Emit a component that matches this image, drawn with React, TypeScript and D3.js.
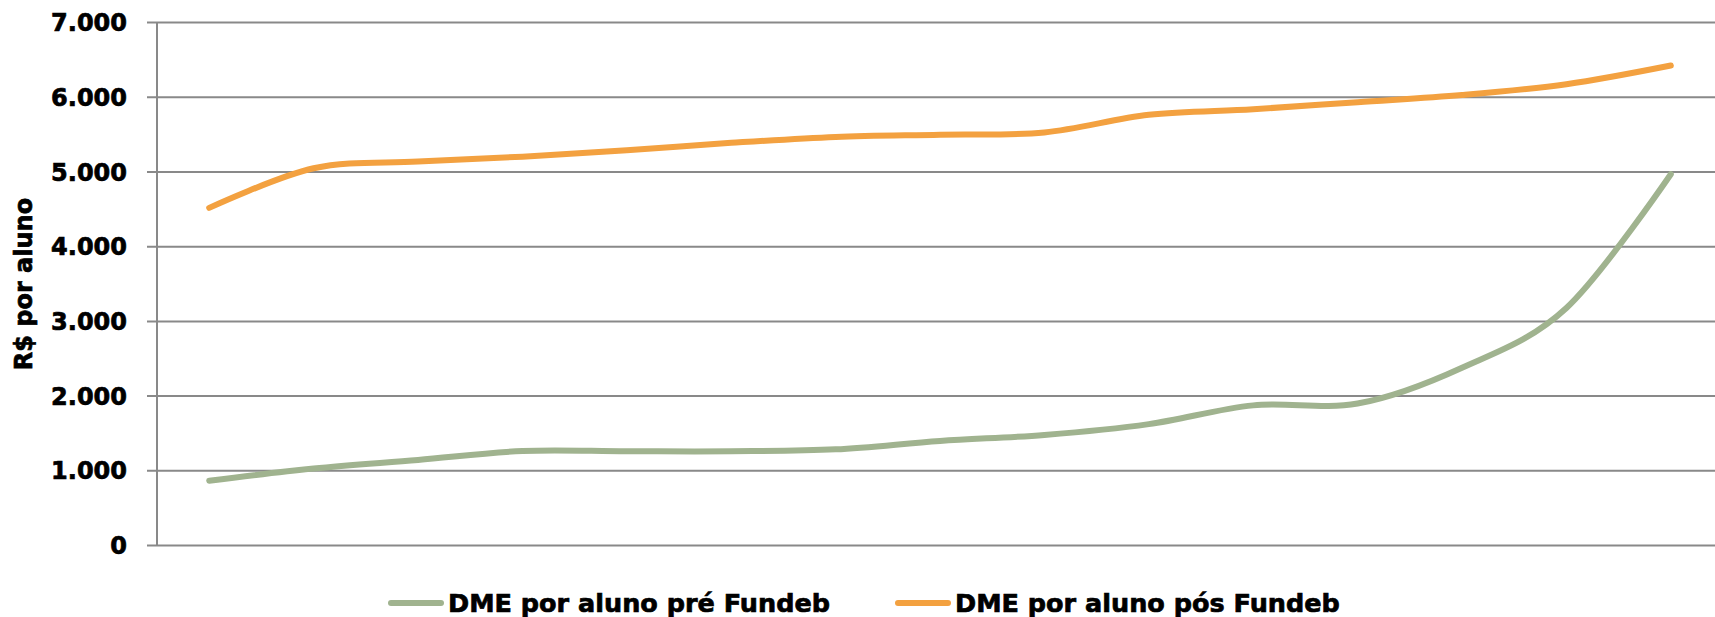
import { useEffect, useRef } from "react";
import * as d3 from "d3";

// categories have no printed labels in the source chart
const categories = ["1", "2", "3", "4", "5", "6", "7", "8", "9", "10", "11", "12", "13", "14", "15"];
const preFundeb = [867, 1030, 1145, 1265, 1262, 1262, 1287, 1400, 1480, 1625, 1876, 1900, 2380, 3180, 4970];
const posFundeb = [4520, 5050, 5140, 5205, 5290, 5390, 5470, 5500, 5530, 5765, 5840, 5935, 6030, 6175, 6425];
const yTicks = [0, 1000, 2000, 3000, 4000, 5000, 6000, 7000];

const seriesNames = ["DME por aluno pré Fundeb", "DME por aluno pós Fundeb"];
const seriesColors = ["#a0b38f", "#f3a140"];

const W = 1715;
const H = 617;
const FONT = "'DejaVu Sans', Verdana, sans-serif";

export default function App() {
  const ref = useRef<SVGSVGElement | null>(null);

  useEffect(() => {
    document.body.style.margin = "0";
    if (!ref.current) return;
    const svg = d3.select(ref.current);
    svg.selectAll("*").remove();

    const x = d3.scaleBand<string>().domain(categories).range([157, 1723]);
    const y = d3.scaleLinear().domain([0, 7000]).range([545.5, 22.6]);
    const cx = (c: string) => x(c)! + x.bandwidth() / 2;

    // gridlines
    svg
      .append("g")
      .attr("stroke", "#898989")
      .attr("stroke-width", 2)
      .selectAll("line")
      .data(yTicks)
      .join("line")
      .attr("x1", 147)
      .attr("x2", W)
      .attr("y1", (d) => y(d))
      .attr("y2", (d) => y(d));

    // y axis line
    svg
      .append("line")
      .attr("x1", 157)
      .attr("x2", 157)
      .attr("y1", y(7000))
      .attr("y2", y(0))
      .attr("stroke", "#898989")
      .attr("stroke-width", 2);

    // heavier look, the source uses a black-weight face
    const heavy = (sel: d3.Selection<SVGTextElement, any, any, any>, size: number) =>
      sel
        .attr("font-family", FONT)
        .attr("font-weight", "bold")
        .attr("font-size", size)
        .attr("fill", "#000")
        .attr("stroke", "#000")
        .attr("stroke-width", 0.7);

    // tick labels
    const fmt = (v: number) => d3.format(",")(v).replace(/,/g, ".");
    svg
      .append("g")
      .selectAll("text")
      .data(yTicks)
      .join("text")
      .attr("x", 127)
      .attr("y", (d) => y(d))
      .attr("dy", "0.36em")
      .attr("text-anchor", "end")
      .call(heavy, 24)
      .text((d) => fmt(d));

    // y title
    svg
      .append("text")
      .attr("transform", `translate(32,${(y(0) + y(7000)) / 2}) rotate(-90)`)
      .attr("text-anchor", "middle")
      .call(heavy, 24)
      .text("R$ por aluno");

    // lines
    const line = d3
      .line<number>()
      .x((_, i) => cx(categories[i]))
      .y((d) => y(d))
      .curve(d3.curveCardinal.tension(0));

    [preFundeb, posFundeb].forEach((vals, i) => {
      svg
        .append("path")
        .datum(vals)
        .attr("fill", "none")
        .attr("stroke", seriesColors[i])
        .attr("stroke-width", 6)
        .attr("stroke-linecap", "round")
        .attr("stroke-linejoin", "round")
        .attr("d", line);
    });

    // legend
    const legendX = [388, 895];
    const legendY = 603;
    const lg = svg
      .append("g")
      .selectAll("g")
      .data(seriesNames)
      .join("g")
      .attr("transform", (_, i) => `translate(${legendX[i]},${legendY})`);

    lg.append("line")
      .attr("x1", 3)
      .attr("x2", 53)
      .attr("stroke", (_, i) => seriesColors[i])
      .attr("stroke-width", 6)
      .attr("stroke-linecap", "round");

    lg.append("text")
      .attr("x", 60)
      .attr("dy", "0.36em")
      .call(heavy, 25.5)
      .text((d) => d);
  }, []);

  return <svg ref={ref} width={W} height={H} style={{ display: "block", background: "#fff" }} />;
}
